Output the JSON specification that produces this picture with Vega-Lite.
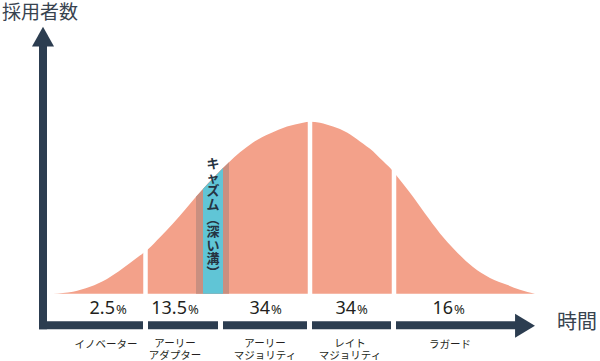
{
  "$schema": "https://vega.github.io/schema/vega-lite/v6.json",
  "width": 600,
  "height": 361,
  "padding": 0,
  "autosize": {"type": "fit", "contains": "padding"},
  "background": "white",
  "config": {"view": {"stroke": null}, "font": "Noto Sans CJK JP"},
  "datasets": {
    "curve": [
      {"x": 53, "v": 0}, {"x": 73, "v": 2}, {"x": 90, "v": 7}, {"x": 107, "v": 15},
      {"x": 130, "v": 31}, {"x": 143, "v": 41}, {"x": 148, "v": 45}, {"x": 160, "v": 57},
      {"x": 173, "v": 71}, {"x": 185, "v": 85}, {"x": 196, "v": 98}, {"x": 203, "v": 106},
      {"x": 223, "v": 127}, {"x": 229, "v": 133}, {"x": 240, "v": 143}, {"x": 253, "v": 153},
      {"x": 270, "v": 162}, {"x": 287, "v": 169}, {"x": 303, "v": 173}, {"x": 310, "v": 174},
      {"x": 320, "v": 173}, {"x": 333, "v": 169}, {"x": 347, "v": 163}, {"x": 360, "v": 154},
      {"x": 373, "v": 144}, {"x": 380, "v": 137}, {"x": 392, "v": 125}, {"x": 396, "v": 120},
      {"x": 410, "v": 102}, {"x": 425, "v": 81}, {"x": 440, "v": 61}, {"x": 455, "v": 44},
      {"x": 473, "v": 27}, {"x": 490, "v": 16}, {"x": 507, "v": 9}, {"x": 520, "v": 4},
      {"x": 535, "v": 0}
    ],
    "gaps": [{"x": 145.5}, {"x": 310}, {"x": 394}],
    "hbars": [
      {"x": 39, "x2": 143, "v": -32}, {"x": 148, "x2": 218, "v": -32},
      {"x": 223, "x2": 307, "v": -32}, {"x": 312, "x2": 391, "v": -32},
      {"x": 396, "x2": 517, "v": -32}
    ],
    "vbar": [{"x": 43, "v": -36, "v2": 252}],
    "uparrow": [{"x": 43, "v": 260}],
    "rightarrow": [{"x": 525, "v": -32.5}],
    "pcts": [
      {"num": "2.5", "x": 115, "v": -21}, {"num": "13.5", "x": 187, "v": -21},
      {"num": "34", "x": 270, "v": -21}, {"num": "34", "x": 356, "v": -21},
      {"num": "16", "x": 453, "v": -21}
    ],
    "groups": [
      {"label": "イノベーター", "x": 106, "v": -52},
      {"label": "アーリー\nアダプター", "x": 175, "v": -51},
      {"label": "アーリー\nマジョリティ", "x": 265, "v": -51},
      {"label": "レイト\nマジョリティ", "x": 350, "v": -51},
      {"label": "ラガード", "x": 450, "v": -52}
    ],
    "chasm": [{"label": ["キ", "ャ", "ズ", "ム", "︵", "深", "い", "溝", "︶"], "x": 213, "v": 137}],
    "xtitle": [{"label": "時間", "x": 577, "v": -30}],
    "ytitle": [{"label": "採用者数", "x": 2, "v": 284}]
  },
  "layer": [
    {
      "data": {"name": "curve"},
      "mark": {"type": "area", "color": "#f3a18a", "interpolate": "monotone"},
      "encoding": {
        "x": {"field": "x", "type": "quantitative", "scale": {"domain": [0, 600], "nice": false, "zero": false}, "axis": null},
        "y": {"field": "v", "type": "quantitative", "scale": {"domain": [-64, 297], "nice": false, "zero": false}, "axis": null},
        "y2": {"datum": 0}
      }
    },
    {
      "data": {"name": "curve"},
      "transform": [{"filter": "datum.x >= 196 && datum.x <= 229"}],
      "mark": {"type": "area", "color": "#c98f80", "interpolate": "linear"},
      "encoding": {
        "x": {"field": "x", "type": "quantitative"},
        "y": {"field": "v", "type": "quantitative"},
        "y2": {"datum": 0}
      }
    },
    {
      "data": {"name": "curve"},
      "transform": [{"filter": "datum.x >= 203 && datum.x <= 223"}],
      "mark": {"type": "area", "color": "#60c5d6", "interpolate": "linear"},
      "encoding": {
        "x": {"field": "x", "type": "quantitative"},
        "y": {"field": "v", "type": "quantitative"},
        "y2": {"datum": 0}
      }
    },
    {
      "data": {"name": "gaps"},
      "mark": {"type": "rule", "color": "white", "strokeWidth": 4.5, "strokeCap": "butt"},
      "encoding": {
        "x": {"field": "x", "type": "quantitative"},
        "y": {"datum": -3},
        "y2": {"datum": 185}
      }
    },
    {
      "data": {"name": "hbars"},
      "mark": {"type": "rule", "color": "#2c3d50", "strokeWidth": 8, "strokeCap": "butt"},
      "encoding": {
        "x": {"field": "x", "type": "quantitative"},
        "x2": {"field": "x2"},
        "y": {"field": "v", "type": "quantitative"}
      }
    },
    {
      "data": {"name": "vbar"},
      "mark": {"type": "rule", "color": "#2c3d50", "strokeWidth": 8, "strokeCap": "butt"},
      "encoding": {
        "x": {"field": "x", "type": "quantitative"},
        "y": {"field": "v", "type": "quantitative"},
        "y2": {"field": "v2"}
      }
    },
    {
      "data": {"name": "uparrow"},
      "mark": {"type": "point", "filled": true, "opacity": 1, "color": "#2c3d50", "strokeWidth": 0, "shape": "M0,-0.9L1,0.9L-1,0.9Z", "size": 484},
      "encoding": {
        "x": {"field": "x", "type": "quantitative"},
        "y": {"field": "v", "type": "quantitative"}
      }
    },
    {
      "data": {"name": "rightarrow"},
      "mark": {"type": "point", "filled": true, "opacity": 1, "color": "#2c3d50", "strokeWidth": 0, "shape": "M0.83,0L-0.83,-1L-0.83,1Z", "size": 576},
      "encoding": {
        "x": {"field": "x", "type": "quantitative"},
        "y": {"field": "v", "type": "quantitative"}
      }
    },
    {
      "data": {"name": "pcts"},
      "mark": {"type": "text", "align": "right", "baseline": "alphabetic", "fontSize": 18, "color": "#231f20", "font": "Noto Sans"},
      "encoding": {
        "x": {"field": "x", "type": "quantitative"},
        "y": {"field": "v", "type": "quantitative"},
        "text": {"field": "num"}
      }
    },
    {
      "data": {"name": "pcts"},
      "mark": {"type": "text", "align": "left", "baseline": "alphabetic", "fontSize": 13, "color": "#231f20", "dx": 1, "font": "Noto Sans"},
      "encoding": {
        "x": {"field": "x", "type": "quantitative"},
        "y": {"field": "v", "type": "quantitative"},
        "text": {"value": "%"}
      }
    },
    {
      "data": {"name": "groups"},
      "mark": {"type": "text", "align": "center", "baseline": "middle", "fontSize": 10.5, "lineHeight": 11.5, "lineBreak": "\n", "color": "#231f20"},
      "encoding": {
        "x": {"field": "x", "type": "quantitative"},
        "y": {"field": "v", "type": "quantitative"},
        "text": {"field": "label"}
      }
    },
    {
      "data": {"name": "chasm"},
      "mark": {"type": "text", "align": "center", "baseline": "top", "fontSize": 13, "lineHeight": 13.6, "fontWeight": "bold", "color": "#263442"},
      "encoding": {
        "x": {"field": "x", "type": "quantitative"},
        "y": {"field": "v", "type": "quantitative"},
        "text": {"field": "label"}
      }
    },
    {
      "data": {"name": "xtitle"},
      "mark": {"type": "text", "align": "center", "baseline": "middle", "fontSize": 20, "color": "#38434f"},
      "encoding": {
        "x": {"field": "x", "type": "quantitative"},
        "y": {"field": "v", "type": "quantitative"},
        "text": {"field": "label"}
      }
    },
    {
      "data": {"name": "ytitle"},
      "mark": {"type": "text", "align": "left", "baseline": "middle", "fontSize": 19, "color": "#38434f"},
      "encoding": {
        "x": {"field": "x", "type": "quantitative"},
        "y": {"field": "v", "type": "quantitative"},
        "text": {"field": "label"}
      }
    }
  ]
}
